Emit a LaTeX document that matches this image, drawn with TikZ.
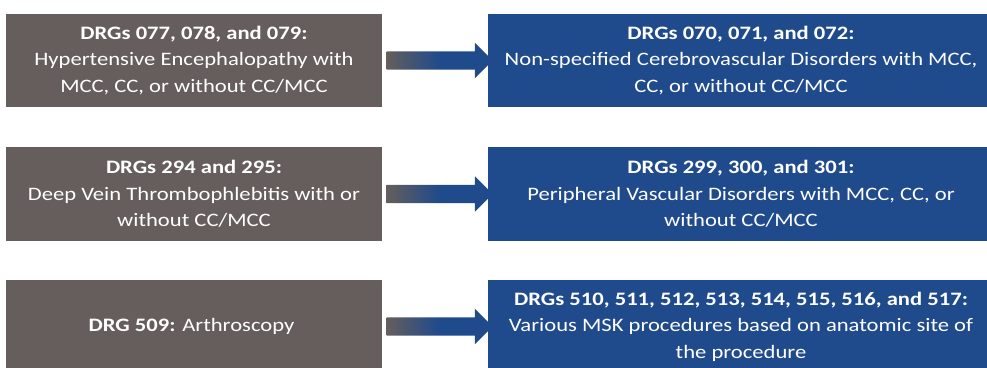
\documentclass[tikz,border=0pt]{standalone}
\usepackage{fontspec}
\setmainfont[FakeStretch=1.19]{Carlito}
\usetikzlibrary{positioning,shapes.arrows,calc}
\definecolor{drggray}{RGB}{101,94,92}
\definecolor{drgblue}{RGB}{31,74,139}

\begin{document}
\begin{tikzpicture}[x=1pt,y=1pt]
\tikzset{
    every node/.style = {rectangle, align=center, text=white, inner sep=0pt, outer sep=0pt,
                         font=\fontsize{19}{26.5}\selectfont},
    oldbox/.style = {fill=drggray, minimum width=376pt, minimum height=93.5pt},
    newbox/.style = {fill=drgblue, minimum width=506pt, minimum height=93.5pt},
    flow/.style = {single arrow, single arrow head extend=8.5pt, single arrow head indent=0pt,
                   inner ysep=9pt, minimum height=106pt,
                   left color=drggray, right color=drgblue, middle color=drgblue}
}
\clip (0,0) rectangle (987,-367);

% -------------------------------------------------------
\node[oldbox] (old1) at (194,-60.5) {
    \textbf{DRGs 077, 078, and 079:} \\
    Hypertensive Encephalopathy with \\
    MCC, CC, or without CC/MCC
};

\node[newbox, right=106pt of old1] (new1) {
    \textbf{DRGs 070, 071, and 072:} \\
    Non-specified Cerebrovascular Disorders with MCC, \\
    CC, or without CC/MCC
};

\node[oldbox, below=40pt of old1] (old2) {
    \textbf{DRGs 294 and 295:} \\
    Deep Vein Thrombophlebitis with or \\
    without CC/MCC
};

\node[newbox, right=106pt of old2] (new2) {
    \textbf{DRGs 299, 300, and 301:} \\
    Peripheral Vascular Disorders with MCC, CC, or \\
    without CC/MCC
};

\node[oldbox, below=39pt of old2] (old3) {
    \textbf{DRG 509:} Arthroscopy
};

\node[newbox, right=106pt of old3] (new3) {
    \textbf{DRGs 510, 511, 512, 513, 514, 515, 516, and 517:} \\
    Various MSK procedures based on anatomic site of \\
    the procedure
};

% -------------------------------------------------------
\node[flow] (to1) at ($(old1.east)!.5!(new1.west)$) {};
\node[flow] (to2) at ($(old2.east)!.5!(new2.west)$) {};
\node[flow] (to3) at ($(old3.east)!.5!(new3.west)$) {};
\end{tikzpicture}
\end{document}
